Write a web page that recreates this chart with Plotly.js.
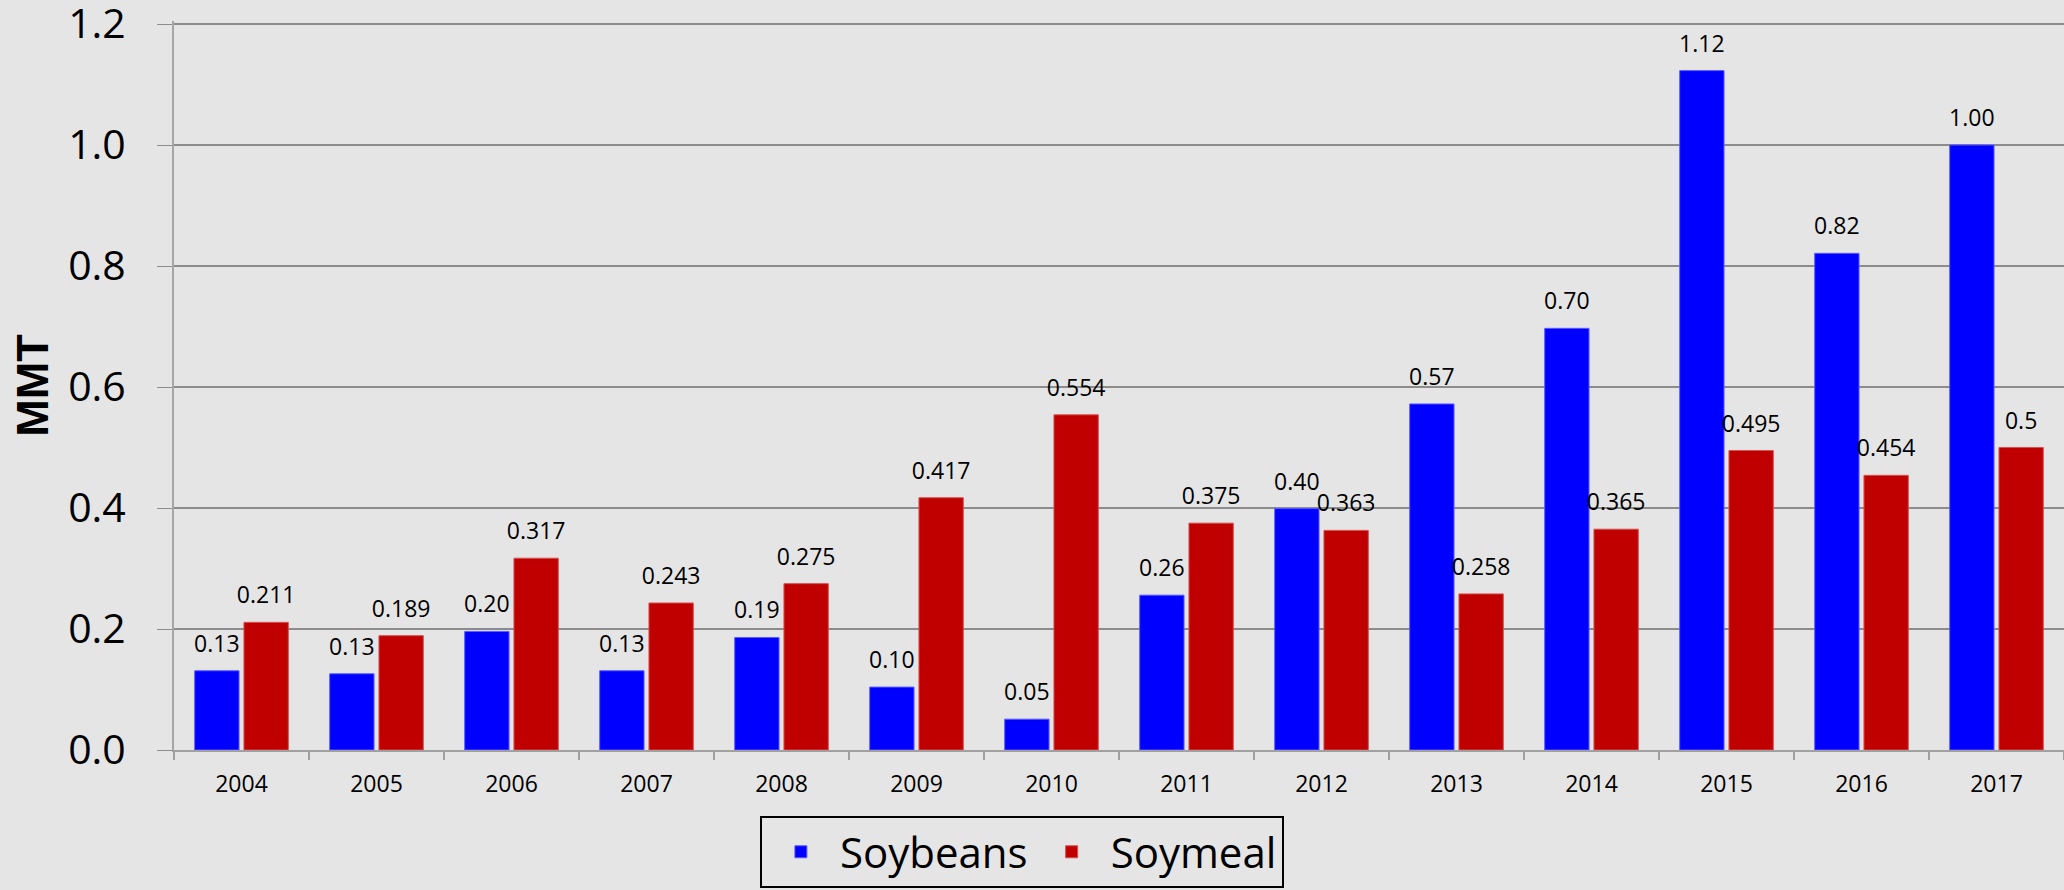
<!DOCTYPE html>
<html>
<head>
<meta charset="utf-8">
<script src="https://cdn.plot.ly/plotly-3.0.1.min.js"></script>
<style>
  html, body { margin: 0; padding: 0; background: #e5e5e5; }
  #chart { width: 2064px; height: 890px; }
</style>
</head>
<body>
<div id="chart"></div>
<script>
var years = ["2004", "2005", "2006", "2007", "2008", "2009", "2010",
             "2011", "2012", "2013", "2014", "2015", "2016", "2017"];
// labels show 2 decimals
var soybeans = [0.131, 0.126, 0.196, 0.131, 0.186, 0.104, 0.051,
                0.256, 0.399, 0.572, 0.697, 1.123, 0.821, 1.0];
var soymeal = [0.211, 0.189, 0.317, 0.243, 0.275, 0.417, 0.554,
               0.375, 0.363, 0.258, 0.365, 0.495, 0.454, 0.5];

var font = "Open Sans, sans-serif";
var bg = "#e5e5e5";
// wide no-break spaces either side lift the labels a bit off the bars
var pad = "<span style='font-size:54px'>\u00A0</span>";

var data = [{
    x: years,
    y: soybeans,
    name: "Soybeans",
    type: "bar",
    marker: { color: "#0000ff", line: { color: "#5c5cff", width: 1 } },
    texttemplate: pad + "%{y:.2f}" + pad,
    textposition: "outside",
    textangle: 0,
    constraintext: "none",
    cliponaxis: false,
    textfont: { family: font, size: 23, color: "#000000" },
    hoverinfo: "x+y"
}, {
    x: years,
    y: soymeal,
    name: "Soymeal",
    type: "bar",
    marker: { color: "#c00000", line: { color: "#d65050", width: 1 } },
    texttemplate: pad + "%{y:.3~f}" + pad,
    textposition: "outside",
    textangle: 0,
    constraintext: "none",
    cliponaxis: false,
    textfont: { family: font, size: 23, color: "#000000" },
    hoverinfo: "x+y"
}];

var layout = {
    width: 2064,
    height: 890,
    margin: { l: 174, r: 0, t: 21, b: 140 },
    paper_bgcolor: bg,
    plot_bgcolor: bg,
    font: { family: font, color: "#000000" },
    barmode: "group",
    bargap: 0.27,
    bargroupgap: 0.1,
    xaxis: {
        type: "category",
        tickson: "boundaries",
        ticks: "outside",
        ticklen: 8,
        tickcolor: "#a0a0a0",
        tickwidth: 2,
        showline: true,
        linecolor: "#a0a0a0",
        linewidth: 2,
        showgrid: false,
        tickfont: { family: font, size: 23 },
        ticklabelstandoff: 12
    },
    yaxis: {
        range: [0, 1.205],
        tickvals: [0, 0.2, 0.4, 0.6, 0.8, 1.0, 1.2],
        tickformat: ".1f",
        ticks: "outside",
        ticklen: 15,
        tickcolor: "#8c8c8c",
        ticklabeloverflow: "allow",
        showline: true,
        linecolor: "#a6a6a6",
        linewidth: 2,
        showgrid: true,
        gridcolor: "#8c8c8c",
        gridwidth: 1.3,
        zeroline: false,
        tickfont: { family: font, size: 41 },
        ticklabelstandoff: 23,
        title: {
            text: "<b>MMT</b>",
            font: { family: "Liberation Sans, Arial, sans-serif", size: 45 },
            standoff: 5
        }
    },
    legend: {
        orientation: "h",
        x: 0.31,
        xanchor: "left",
        y: -0.0905,
        yanchor: "top",
        bgcolor: bg,
        bordercolor: "#000000",
        borderwidth: 2,
        itemwidth: 68,
        font: { family: font, size: 42 }
    },
    showlegend: true
};

Plotly.newPlot("chart", data, layout, { displayModeBar: false, staticPlot: true });
</script>
</body>
</html>
